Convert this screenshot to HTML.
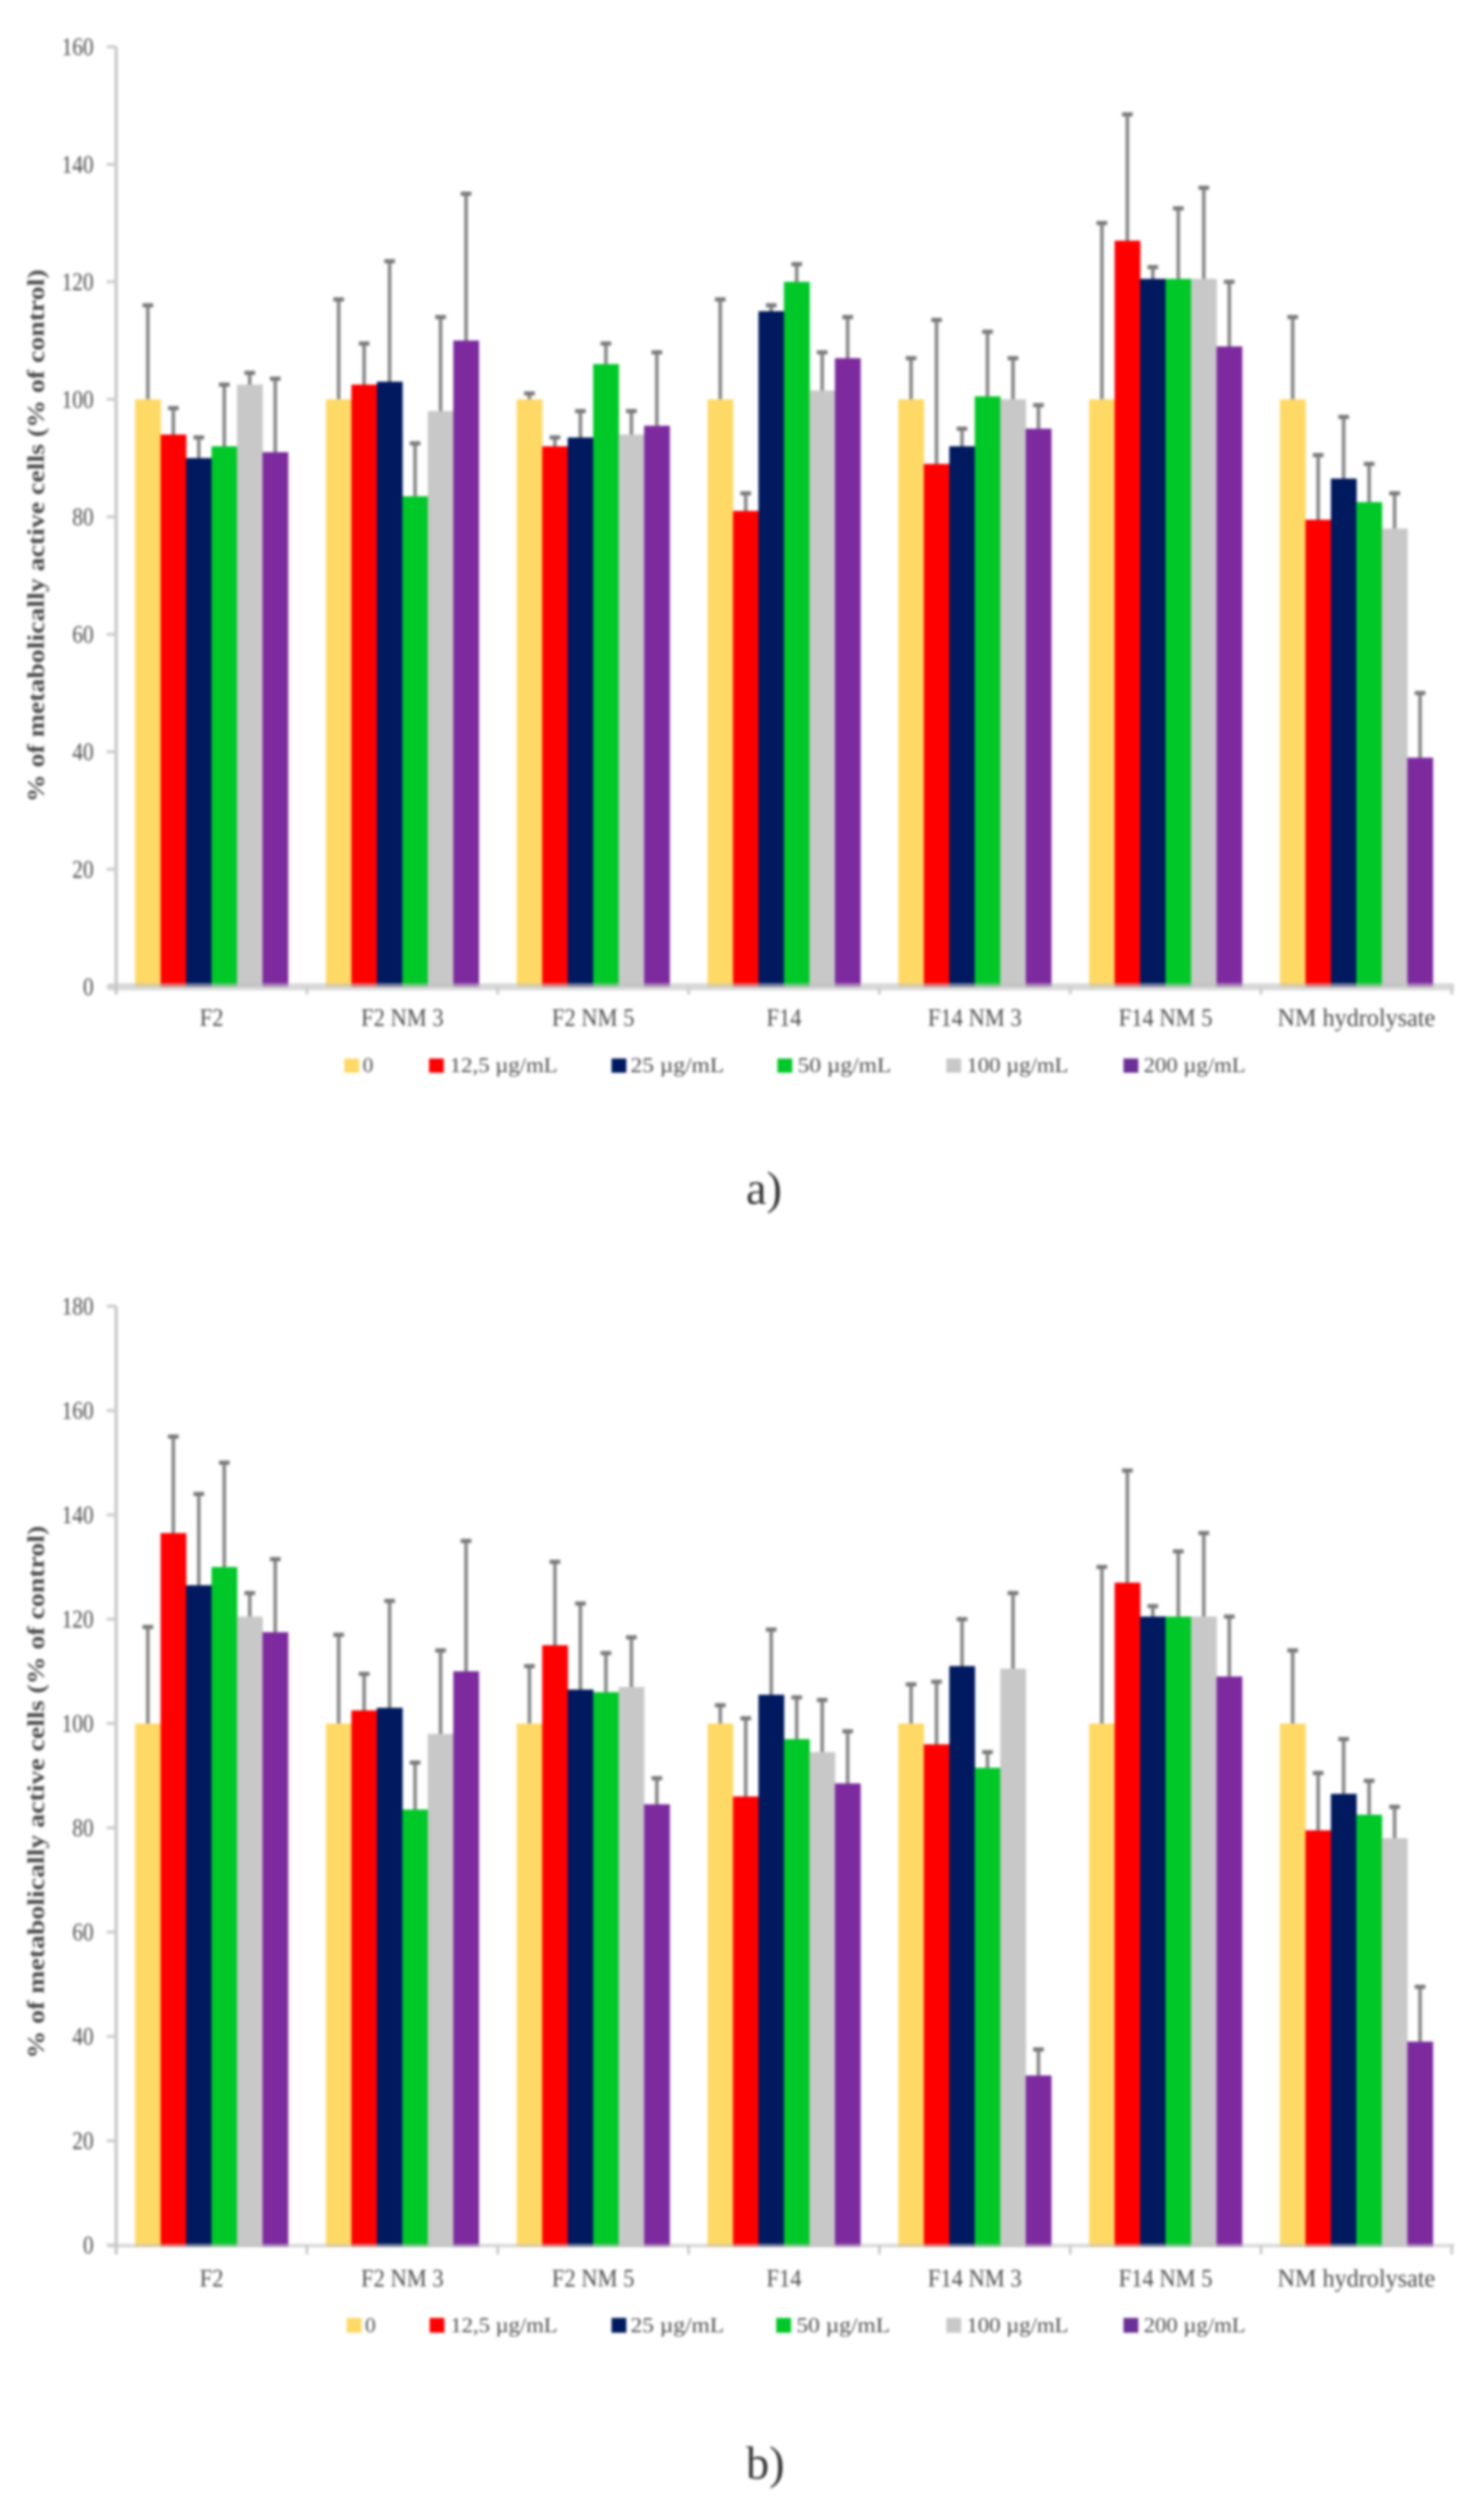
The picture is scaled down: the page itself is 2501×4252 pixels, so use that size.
<!DOCTYPE html>
<html lang="en">
<head>
<meta charset="utf-8">
<title>Metabolically active cells</title>
<style>
html,body{margin:0;padding:0;background:#fff;}
svg{display:block;}
text{font-family:"Liberation Serif",serif;fill:#4a4a4a;}
</style>
</head>
<body>
<svg id="figure" xmlns="http://www.w3.org/2000/svg" width="2501" height="4252" viewBox="0 0 2501 4252">
  <rect x="0" y="0" width="2501" height="4252" fill="#fff"/>
  <g id="content" style="filter:blur(2.4px)">
    <g id="chartA"></g>
    <g id="chartB"></g>

    <g font-size="36">
      <g><rect x="581" y="1786" width="25" height="24" fill="#ffd966"/><text x="612" y="1809">0</text></g>
      <g><rect x="724" y="1786" width="25" height="24" fill="#ff0000"/><text x="759" y="1809" textLength="182" lengthAdjust="spacingAndGlyphs">12,5 µg/mL</text></g>
      <g><rect x="1032" y="1786" width="25" height="24" fill="#00195f"/><text x="1064" y="1809" textLength="158" lengthAdjust="spacingAndGlyphs">25 µg/mL</text></g>
      <g><rect x="1312" y="1786" width="25" height="24" fill="#00c828"/><text x="1346" y="1809" textLength="158" lengthAdjust="spacingAndGlyphs">50 µg/mL</text></g>
      <g><rect x="1597" y="1786" width="25" height="24" fill="#c8c8c8"/><text x="1631" y="1809" textLength="172" lengthAdjust="spacingAndGlyphs">100 µg/mL</text></g>
      <g><rect x="1896" y="1786" width="25" height="24" fill="#6a2f98"/><text x="1930" y="1809" textLength="172" lengthAdjust="spacingAndGlyphs">200 µg/mL</text></g>
    </g>
    <text x="1259" y="2031" font-size="78" style="fill:#333">a)</text>

    <g font-size="36">
      <g><rect x="585" y="3911" width="25" height="25" fill="#ffd966"/><text x="616" y="3935">0</text></g>
      <g><rect x="725" y="3911" width="25" height="25" fill="#ff0000"/><text x="760" y="3935" textLength="181" lengthAdjust="spacingAndGlyphs">12,5 µg/mL</text></g>
      <g><rect x="1032" y="3911" width="25" height="25" fill="#00195f"/><text x="1064" y="3935" textLength="158" lengthAdjust="spacingAndGlyphs">25 µg/mL</text></g>
      <g><rect x="1310" y="3911" width="25" height="25" fill="#00c828"/><text x="1344" y="3935" textLength="158" lengthAdjust="spacingAndGlyphs">50 µg/mL</text></g>
      <g><rect x="1597" y="3911" width="25" height="25" fill="#c8c8c8"/><text x="1631" y="3935" textLength="172" lengthAdjust="spacingAndGlyphs">100 µg/mL</text></g>
      <g><rect x="1896" y="3911" width="25" height="25" fill="#6a2f98"/><text x="1930" y="3935" textLength="172" lengthAdjust="spacingAndGlyphs">200 µg/mL</text></g>
    </g>
    <text x="1259" y="4182" font-size="78" style="fill:#333">b)</text>
  </g>
</svg>
<script>
const categories = ["F2", "F2 NM 3", "F2 NM 5", "F14", "F14 NM 3", "F14 NM 5", "NM hydrolysate"];
const seriesNames = ["0", "12,5 µg/mL", "25 µg/mL", "50 µg/mL", "100 µg/mL", "200 µg/mL"];
const seriesColors = ["#ffd966", "#ff0000", "#00195f", "#00c828", "#c8c8c8", "#7d2a9f"];

const ticksA = [0, 20, 40, 60, 80, 100, 120, 140, 160];
const a0 = [100, 100, 100, 100, 100, 100, 100];
const a12 = [94, 102.5, 92, 81, 89, 127, 79.5];
const a25 = [90, 103, 93.5, 115, 92, 120.5, 86.5];
const a50 = [92, 83.5, 106, 120, 100.5, 120.5, 82.5];
const a100 = [102.5, 98, 94, 101.5, 100, 120.5, 78];
const a200 = [91, 110, 95.5, 107, 95, 109, 39];
const aErr0 = [16, 17, 1, 17, 7, 30, 14];
const aErr12 = [4.5, 7, 1.5, 3, 24.5, 21.5, 11];
const aErr25 = [3.5, 20.5, 4.5, 1, 3, 2, 10.5];
const aErr50 = [10.5, 9, 3.5, 3, 11, 12, 6.5];
const aErr100 = [2, 16, 4, 6.5, 7, 15.5, 6];
const aErr200 = [12.5, 25, 12.5, 7, 4, 11, 11];

const ticksB = [0, 20, 40, 60, 80, 100, 120, 140, 160, 180];
const b0 = [100, 100, 100, 100, 100, 100, 100];
const b12 = [136.5, 102.5, 115, 86, 96, 127, 79.5];
const b25 = [126.5, 103, 106.5, 105.5, 111, 120.5, 86.5];
const b50 = [130, 83.5, 106, 97, 91.5, 120.5, 82.5];
const b100 = [120.5, 98, 107, 94.5, 110.5, 120.5, 78];
const b200 = [117.5, 110, 84.5, 88.5, 32.5, 109, 39];
const bErr0 = [18.5, 17, 11, 3.5, 7.5, 30, 14];
const bErr12 = [18.5, 7, 16, 15, 12, 21.5, 11];
const bErr25 = [17.5, 20.5, 16.5, 12.5, 9, 2, 10.5];
const bErr50 = [20, 9, 7.5, 8, 3, 12.5, 6.5];
const bErr100 = [4.5, 16, 9.5, 10, 14.5, 16, 6];
const bErr200 = [14, 25, 5, 10, 5, 11.5, 10.5];

const NS = "http://www.w3.org/2000/svg";
function make(parent, tag, props, content) {
  const node = document.createElementNS(NS, tag);
  for (const key in props) node.setAttribute(key, props[key]);
  if (content !== undefined) node.textContent = content;
  parent.appendChild(node);
  return node;
}

function drawChart(parent, cfg) {
  const axisLeft = 196, axisRight = 2450;
  const step = (axisRight - axisLeft) / categories.length;
  const sidePad = 32;
  const barW = (step - sidePad * 2) / seriesNames.length;
  const yOf = v => cfg.y0 - (v / 20) * cfg.unit;
  const xOf = (c, s) => axisLeft + c * step + sidePad + s * barW;
  const top = yOf(cfg.ticks[cfg.ticks.length - 1]);

  // error bars sit behind the bars
  cfg.values.forEach((vals, s) => {
    vals.forEach((v, c) => {
      const cx = xOf(c, s) + barW / 2;
      const yTop = yOf(v + cfg.errors[s][c]);
      const stem = make(parent, "line", {x1: cx, x2: cx, y1: yOf(v), y2: yTop, stroke: "#858585", "stroke-width": 6});
      
      
      const cap = make(parent, "line", {x1: cx - 9, x2: cx + 9, y1: yTop, y2: yTop, stroke: "#787878", "stroke-width": 7});
      
      
    });
  });

  cfg.values.forEach((vals, s) => {
    vals.forEach((v, c) => {
      const bar = make(parent, "rect", {x: xOf(c, s), y: yOf(v), width: barW + 0.5, height: cfg.y0 + cfg.barDrop - yOf(v), fill: seriesColors[s]});
      
      
    });
  });

  const yAxis = make(parent, "line", {x1: axisLeft, x2: axisLeft, y1: top, y2: cfg.y0 + cfg.tickLen, stroke: "#cccccc", "stroke-width": 6});
  
  
  const xAxis = make(parent, "line", {x1: axisLeft - 14, x2: axisRight + 4, y1: cfg.y0 + cfg.bandShift, y2: cfg.y0 + cfg.bandShift, stroke: "#bfbfbf", "stroke-width": cfg.bandWidth, "stroke-opacity": 0.6});
  
  

  cfg.ticks.forEach(t => {
    const tick = make(parent, "line", {x1: axisLeft - 16, x2: axisLeft, y1: yOf(t), y2: yOf(t), stroke: "#cccccc", "stroke-width": 5});
    
    
    const label = make(parent, "text", {transform: "translate(158," + (yOf(t) + 14) + ") scale(1,1.18)", "text-anchor": "end", "font-size": 36}, String(t));
    
    
  });

  categories.forEach((name, c) => {
    const tx = axisLeft + (c + 1) * step;
    const tick = make(parent, "line", {x1: tx, x2: tx, y1: cfg.y0, y2: cfg.y0 + cfg.tickLen, stroke: "#cccccc", "stroke-width": 5});
    
    
    const label = make(parent, "text", {transform: "translate(" + (axisLeft + (c + 0.5) * step) + "," + cfg.labelY + ") scale(1,1.12)", "text-anchor": "middle", "font-size": 38}, name);
    if (name.length > 10) {
      label.setAttribute("textLength", 266);
      label.setAttribute("lengthAdjust", "spacingAndGlyphs");
    }
    
    
  });

  const title = make(parent, "text", {
    transform: "translate(74," + cfg.titleY + ") rotate(-90)",
    "text-anchor": "middle", "font-size": 40, "font-weight": "bold",
    textLength: 899, lengthAdjust: "spacingAndGlyphs"
  }, "% of metabolically active cells (% of control)");
  title.setAttribute('fill', '#333');
  
  
}

drawChart(document.getElementById("chartA"), {
  ticks: ticksA, y0: 1665, unit: 198.25, labelY: 1731, titleY: 904,
  barDrop: 0, bandShift: 0, bandWidth: 12, tickLen: 13,
  values: [a0, a12, a25, a50, a100, a200],
  errors: [aErr0, aErr12, aErr25, aErr50, aErr100, aErr200]
});
drawChart(document.getElementById("chartB"), {
  ticks: ticksB, y0: 3788, unit: 176, labelY: 3858, titleY: 3024,
  barDrop: 3, bandShift: 1, bandWidth: 6, tickLen: 16,
  values: [b0, b12, b25, b50, b100, b200],
  errors: [bErr0, bErr12, bErr25, bErr50, bErr100, bErr200]
});
</script>
</body>
</html>
